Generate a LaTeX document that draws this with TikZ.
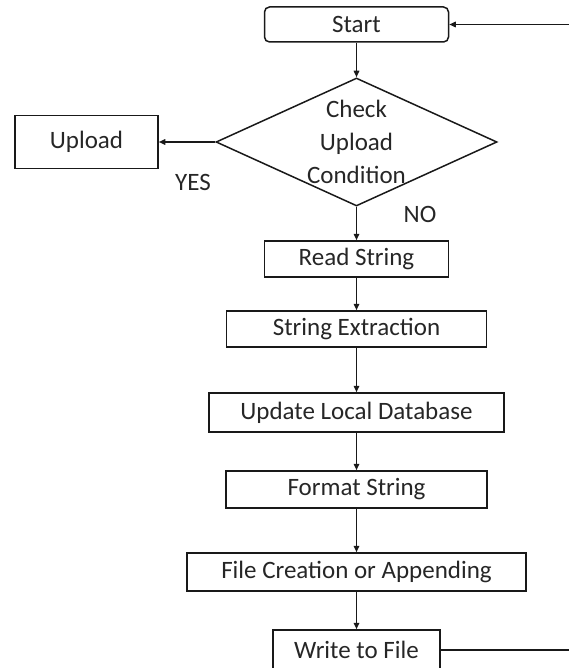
\documentclass[tikz,border=0pt]{standalone}
\usepackage{fontspec}
\setmainfont{Carlito}
\usetikzlibrary{arrows.meta,shapes.geometric}

\tikzset{
  flowline/.style={line width=1.5pt, draw=black!90},
  flowarrow/.style={flowline, -{Triangle[length=6.5pt,width=5.5pt]}},
  procbox/.style={draw=black!90, line width=1.5pt, rectangle, inner sep=0pt,
                  minimum height=37pt, text=black!85},
  startbox/.style={procbox, rounded corners=5pt},
  decision/.style={draw=black!90, line width=1.5pt, diamond, inner sep=0pt,
                   minimum width=281pt, minimum height=128pt, aspect=2.2},
  lbl/.style={text=black!85, inner sep=0pt},
}

\begin{document}
\begin{tikzpicture}[x=1pt, y=-1pt,
  every node/.append style={font=\fontsize{25pt}{33pt}\selectfont}]
  \clip (0,0) rectangle (569,668);

  % process chain, all on one vertical axis
  \def\axis{356.5}
  \node[startbox, minimum width=184pt, minimum height=35pt] (start) at (\axis,24.5) {Start};
  \node[decision] (chk) at (\axis,142) {};
  \node[lbl, align=center] (chktext) at (\axis,142) {Check\\Upload\\Condition};
  \node[procbox, minimum width=143pt, minimum height=53pt] (upload) at (86.5,142) {Upload};
  \node[procbox, minimum width=184pt, minimum height=36pt] (read) at (\axis,259) {Read String};
  \node[procbox, minimum width=260pt, minimum height=36pt] (extract) at (\axis,329) {String Extraction};
  \node[procbox, minimum width=295pt, minimum height=39pt] (update) at (\axis,412.5) {Update Local Database};
  \node[procbox, minimum width=261pt, minimum height=37pt] (format) at (\axis,489.5) {Format String};
  \node[procbox, minimum width=339pt, minimum height=38pt] (filecr) at (\axis,572) {File Creation or Appending};
  \node[procbox, minimum width=167pt, minimum height=40pt] (write) at (\axis,650) {Write to File};

  % branch labels
  \node[lbl] (yes) at (193,182) {YES};
  \node[lbl] (no) at (420,214) {NO};

  % loose ends at the right margin
  \coordinate (loopin) at (569,24.5);
  \coordinate (loopout) at (569,650);

  % connectors
  \draw[flowarrow] (loopin) -- (start.east);
  \draw[flowarrow] (start.south) -- (chk.north);
  \draw[flowarrow] (chk.west) -- (upload.east);
  \draw[flowarrow] (chk.south) -- (read.north);
  \draw[flowarrow] (read.south) -- (extract.north);
  \draw[flowarrow] (extract.south) -- (update.north);
  \draw[flowarrow] (update.south) -- (format.north);
  \draw[flowarrow] (format.south) -- (filecr.north);
  \draw[flowarrow] (filecr.south) -- (write.north);
  \draw[flowline] (write.east) -- (loopout);
\end{tikzpicture}
\end{document}
